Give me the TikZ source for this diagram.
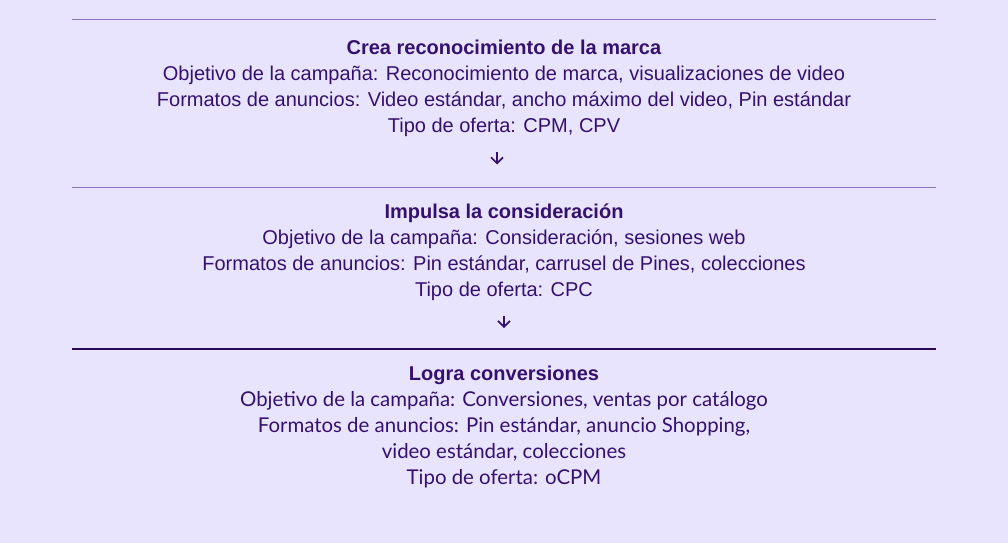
\documentclass[tikz,border=0pt]{standalone}
\usepackage{fontspec}
\setmainfont{Liberation Sans}
\newfontfamily\logrofont{Lato}
\usepackage{xcolor}
\usetikzlibrary{arrows.meta, positioning, calc}

\definecolor{fondo}{HTML}{E8E4FE}
\definecolor{tinta}{HTML}{35116E}
\definecolor{rayaclara}{HTML}{8C74C0}
\definecolor{rayaoscura}{HTML}{2A0B5C}

\tikzset{
  bloque/.style={align=center, inner sep=0pt, text=tinta, anchor=base,
    font=\fontsize{15}{19.5}\selectfont},
  raya/.style={line width=1.1pt},
  flecha/.style={-{Straight Barb[length=4.5pt, width=9pt]}, line width=1.2pt, draw=tinta}
}

\begin{document}
\begin{tikzpicture}[x=0.75pt, y=-0.75pt]
  \useasboundingbox[fill=fondo] (0,0) rectangle (1008,543);

  % separadores
  \draw[raya, rayaclara] (72,19.5) -- (936,19.5);
  \draw[raya, rayaclara] (72,187.5) -- (936,187.5);
  \draw[raya, rayaoscura] (72,349) -- (936,349);

  % el ancla base queda en la ultima linea
  \node[bloque] (crea) at (504,132) {\textbf{Crea reconocimiento de la marca}\\
    Objetivo de la campaña: Reconocimiento de marca, visualizaciones de video\\
    Formatos de anuncios: Video estándar, ancho máximo del video, Pin estándar\\
    Tipo de oferta: CPM, CPV};

  \node[bloque] (impulsa) at (504,296) {\textbf{Impulsa la consideración}\\
    Objetivo de la campaña: Consideración, sesiones web\\
    Formatos de anuncios: Pin estándar, carrusel de Pines, colecciones\\
    Tipo de oferta: CPC};

  \node[bloque] (logra) at (504,484) {\textbf{Logra conversiones}\\
    {\logrofont\fontsize{15.3}{19.5}\selectfont Objetivo de la campaña: Conversiones, ventas por catálogo}\\
    {\logrofont\fontsize{15.3}{19.5}\selectfont Formatos de anuncios: Pin estándar, anuncio Shopping,}\\
    {\logrofont\fontsize{15.3}{19.5}\selectfont video estándar, colecciones}\\
    {\logrofont\fontsize{15.3}{19.5}\selectfont Tipo de oferta: oCPM}};

  \coordinate (f1a) at (497,152);
  \coordinate (f1b) at (497,164.5);
  \coordinate (f2a) at (504,315.5);
  \coordinate (f2b) at (504,328);
  \draw[flecha] (f1a) -- (f1b);
  \draw[flecha] (f2a) -- (f2b);
\end{tikzpicture}
\end{document}
